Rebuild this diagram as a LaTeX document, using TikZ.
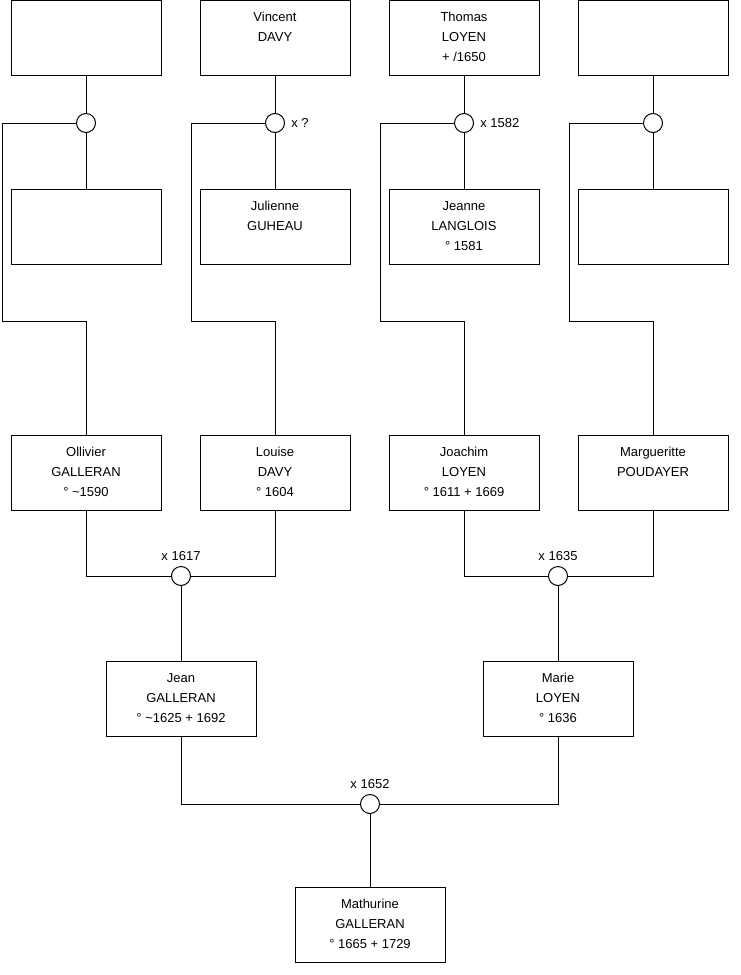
\documentclass[tikz,border=0pt]{standalone}
\usepackage{fontspec}
\setmainfont{Liberation Sans}
\newcommand\fiche[1]{\parbox[c][56.25pt][t]{105pt}{\centering\rule{0pt}{15.8pt}#1}}

\begin{document}
\tikzset{every picture/.style={line width=0.75pt}}

\begin{tikzpicture}[x=0.75pt,y=0.75pt,yscale=-1,xscale=1,
		font=\fontsize{9.75}{15}\selectfont,
		person/.style={draw, rectangle, inner sep=0pt, minimum width=112.5pt, minimum height=56.25pt},
		union/.style={draw, circle, fill=white, inner sep=0pt, minimum size=14.25pt}]
		\useasboundingbox (0,0) rectangle (740,975);
		
		% Ancestors, top row
		\node [person] (p1) at (86,38) {\fiche{}};
		\node [person] (p2) at (275,38) {\fiche{Vincent\\DAVY}};
		\node [person] (p3) at (464,38) {\fiche{Thomas\\LOYEN\\ + /1650}};
		\node [person] (p4) at (653,38) {\fiche{}};
		% Wives, second row
		\node [person] (w1) at (86,227) {\fiche{}};
		\node [person] (w2) at (275,227) {\fiche{Julienne\\GUHEAU}};
		\node [person] (w3) at (464,227) {\fiche{Jeanne\\LANGLOIS\\° 1581}};
		\node [person] (w4) at (653,227) {\fiche{}};
		% Marriages
		\node [union] (u1) at (86,123) {};
		\node [union, label={[label distance=1pt]right:x ?}] (u2) at (275,123) {};
		\node [union, label={[label distance=1pt]right:x 1582}] (u3) at (464,123) {};
		\node [union] (u4) at (653,123) {};
		
		% Grand-parents
		\node [person] (ollivier) at (86,472.5) {\fiche{Ollivier\\GALLERAN\\° \textasciitilde1590}};
		\node [person] (louise) at (275,472.5) {\fiche{Louise\\DAVY\\° 1604}};
		\node [person] (joachim) at (464,472.5) {\fiche{Joachim\\LOYEN\\° 1611 + 1669}};
		\node [person] (marguerite) at (653,472.5) {\fiche{Margueritte\\POUDAYER}};
		\node [union, label={[label distance=0pt]above:x 1617}] (u5) at (181,576) {};
		\node [union, label={[label distance=0pt]above:x 1635}] (u6) at (558,576) {};
		
		% Parents
		\node [person] (jean) at (181,699) {\fiche{Jean\\GALLERAN\\° \textasciitilde1625 + 1692}};
		\node [person] (marie) at (558,699) {\fiche{Marie\\LOYEN\\° 1636}};
		\node [union, label={[label distance=0pt]above:x 1652}] (u7) at (370,804) {};
		
		% Child
		\node [person] (mathurine) at (370,925) {\fiche{Mathurine\\GALLERAN\\° 1665 + 1729}};
		
		% Elbows of the side lines
		\coordinate (k1) at (2,321);
		\coordinate (k2) at (191,321);
		\coordinate (k3) at (380,321);
		\coordinate (k4) at (569,321);
		
		% Lines, top part
		\draw (p1) -- (u1) -- (w1);
		\draw (p2) -- (u2) -- (w2);
		\draw (p3) -- (u3) -- (w3);
		\draw (p4) -- (u4) -- (w4);
		\draw (u1.west) -| (k1) -| (ollivier.north);
		\draw (u2.west) -| (k2) -| (louise.north);
		\draw (u3.west) -| (k3) -| (joachim.north);
		\draw (u4.west) -| (k4) -| (marguerite.north);
		
		% Lines, bottom part
		\draw (ollivier.south) |- (u5.west);
		\draw (louise.south) |- (u5.east);
		\draw (u5) -- (jean);
		\draw (joachim.south) |- (u6.west);
		\draw (marguerite.south) |- (u6.east);
		\draw (u6) -- (marie);
		\draw (jean.south) |- (u7.west);
		\draw (marie.south) |- (u7.east);
		\draw (u7) -- (mathurine);
		
\end{tikzpicture}
\end{document}
